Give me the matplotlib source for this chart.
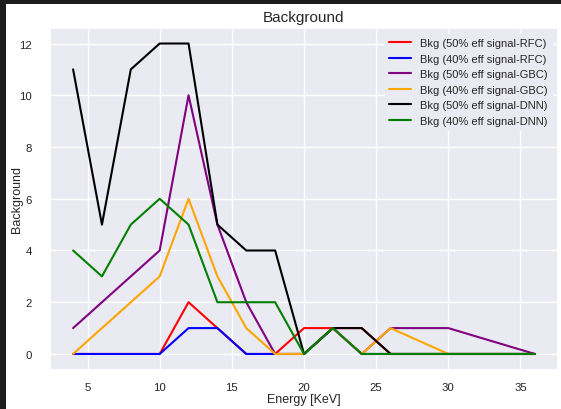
import numpy as np
import matplotlib
matplotlib.use('Agg')
import matplotlib.pyplot as plt
import seaborn as sns
from matplotlib.patches import Rectangle

# Energy bins [KeV]
energia = [4, 6, 8, 10, 12, 14, 16, 18, 20, 22, 24, 26, 30, 36]

# Background counts per classifier / signal efficiency
bkg_rfc_50 = [0, 0, 0, 0, 2, 1, 0, 0, 1, 1, 1, 0, 0, 0]
bkg_rfc_40 = [0, 0, 0, 0, 1, 1, 0, 0, 0, 1, 0, 0, 0, 0]
bkg_gbc_50 = [1, 2, 3, 4, 10, 5, 2, 0, 0, 1, 0, 1, 1, 0]
bkg_gbc_40 = [0, 1, 2, 3, 6, 3, 1, 0, 0, 1, 0, 1, 0, 0]
bkg_dnn_50 = [11, 5, 11, 12, 12, 5, 4, 4, 0, 1, 1, 0, 0, 0]
bkg_dnn_40 = [4, 3, 5, 6, 5, 2, 2, 2, 0, 1, 0, 0, 0, 0]

series = [
    (bkg_rfc_50, 'red', 'Bkg (50% eff signal-RFC)'),
    (bkg_rfc_40, 'blue', 'Bkg (40% eff signal-RFC)'),
    (bkg_gbc_50, 'purple', 'Bkg (50% eff signal-GBC)'),
    (bkg_gbc_40, 'orange', 'Bkg (40% eff signal-GBC)'),
    (bkg_dnn_50, 'black', 'Bkg (50% eff signal-DNN)'),
    (bkg_dnn_40, 'green', 'Bkg (40% eff signal-DNN)'),
]

sns.set_theme(style='darkgrid')
plt.rcParams['font.family'] = ['Liberation Sans', 'DejaVu Sans']

fig = plt.figure(figsize=(5.61, 4.10), dpi=100)
fig.patch.set_facecolor('white')

# borda escura do print original (esquerda e topo)
fig.patches.append(Rectangle((0, 0), 6 / 561, 1, transform=fig.transFigure,
                             facecolor='#1c1c1c', edgecolor='none', zorder=-1))
fig.patches.append(Rectangle((0, 1 - 5 / 410), 1, 5 / 410, transform=fig.transFigure,
                             facecolor='#1c1c1c', edgecolor='none', zorder=-1))

ax = fig.add_axes([50 / 561, 39.5 / 410, 508 / 561, 341.5 / 410])

for valores, cor, rotulo in series:
    ax.plot(energia, valores, color=cor, label=rotulo, linewidth=1.5)

ax.set_xlabel('Energy [KeV]', fontsize=9)
ax.set_ylabel('Background', fontsize=9)
ax.xaxis.set_label_coords(0.5, -0.069)
ax.yaxis.set_label_coords(-0.054, 0.5)
ax.set_title('Background', fontsize=11, pad=5)
ax.tick_params(axis='x', labelsize=8.2, pad=3.3)
ax.tick_params(axis='y', labelsize=8.2, pad=7)
ax.legend(loc='upper right', fontsize=8, facecolor='#EAEAF2',
          edgecolor='#EAEAF2', framealpha=1)

plt.savefig('out.png', dpi=100)
